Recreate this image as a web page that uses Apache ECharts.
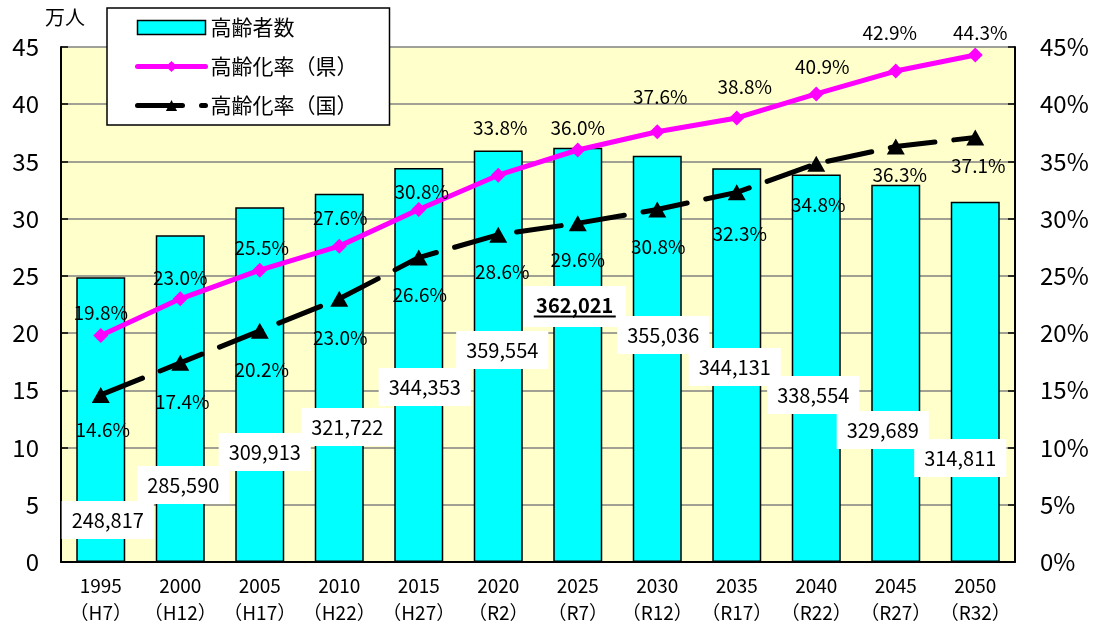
<!DOCTYPE html>
<html>
<head>
<meta charset="utf-8">
<title>高齢者数・高齢化率</title>
<script src="https://cdn.jsdelivr.net/npm/echarts@6/dist/echarts.min.js"></script>
<style>
  html, body { margin: 0; padding: 0; background: #fff; }
  #echartsShow { width: 1095px; height: 629px; }
</style>
</head>
<body>
<div id="echartsShow"></div>
<script>
// data
var years = ['1995', '2000', '2005', '2010', '2015', '2020', '2025', '2030', '2035', '2040', '2045', '2050'];
var eras = ['H7', 'H12', 'H17', 'H22', 'H27', 'R2', 'R7', 'R12', 'R17', 'R22', 'R27', 'R32'];
var elderly = [248817, 285590, 309913, 321722, 344353, 359554, 362021, 355036, 344131, 338554, 329689, 314811];
var ratePref = [19.8, 23.0, 25.5, 27.6, 30.8, 33.8, 36.0, 37.6, 38.8, 40.9, 42.9, 44.3];
var rateNation = [14.6, 17.4, 20.2, 23.0, 26.6, 28.6, 29.6, 30.8, 32.3, 34.8, 36.3, 37.1];
var highlightIndex = 6;

// label placement (pixels)
var barLabelOffset = [[7, -23], [3, -58], [5, -91], [8, -116], [6, -156], [4, -193], [-3, -235], [6, -208], [-2, -176], [-3, -148], [-13, -113], [-15, -85]];
var prefLabelOffset = [[0, -23], [0, -21], [2, -22], [1, -28], [3, -18], [2, -47], [0, -22], [3, -35], [8, -31], [6, -27], [-6, -38], [5, -22]];
var nationLabelOffset = [[2, 35], [2, 39], [2, 39], [1, 39], [1, 37], [4, 37], [0, 37], [1, 37], [3, 41], [2, 41], [4, 28], [3, 28]];

var FONT = '"Noto Sans CJK JP", sans-serif';

var echartsShow = echarts.init(document.getElementById('echartsShow'));

var barData = elderly.map(function (v, i) {
    var item = {
        value: v / 10000,
        label: { offset: barLabelOffset[i] }
    };
    if (i === highlightIndex) {
        item.label.formatter = function (p) {
            return '{b|' + elderly[p.dataIndex].toLocaleString('en-US') + '}\n{u|}';
        };
    }
    return item;
});

var prefData = ratePref.map(function (v, i) {
    return { value: v, label: { offset: prefLabelOffset[i] } };
});
var nationData = rateNation.map(function (v, i) {
    return { value: v, label: { offset: nationLabelOffset[i] } };
});

var option = {
    backgroundColor: '#fff',
    textStyle: { fontFamily: FONT },
    animation: false,
    title: {
        text: '万人',
        left: 40,
        top: 2,
        textStyle: { fontSize: 20, fontWeight: 'normal', color: '#000', fontFamily: FONT }
    },
    legend: {
        orient: 'vertical',
        left: 107,
        top: 8,
        backgroundColor: '#fff',
        borderColor: '#000',
        borderWidth: 1.5,
        borderRadius: 0,
        padding: [9, 32, 9, 28],
        itemWidth: 68,
        itemHeight: 14,
        itemGap: 18,
        lineStyle: { width: 5 },
        textStyle: { fontSize: 21, color: '#000', fontFamily: FONT },
        data: [{
            name: '高齢者数',
            icon: 'rect',
            itemStyle: { color: '#00FFFF', borderColor: '#000', borderWidth: 1.5 }
        }, {
            name: '高齢化率（県）',
            lineStyle: { width: 5, color: '#FF00FF' }
        }, {
            name: '高齢化率（国）',
            lineStyle: { width: 5, color: '#000' }
        }]
    },
    grid: {
        left: 61,
        right: 80,
        top: 47,
        bottom: 67,
        show: true,
        backgroundColor: '#FFFFCC',
        borderWidth: 0
    },
    xAxis: [{
        type: 'category',
        data: years,
        boundaryGap: true,
        axisLine: { lineStyle: { color: '#000', width: 2 } },
        axisTick: { inside: true, length: 6, lineStyle: { color: '#000', width: 1.5 } },
        axisLabel: {
            color: '#000',
            fontSize: 19,
            lineHeight: 27,
            margin: 10,
            interval: 0,
            formatter: function (v, i) { return v + '\n（' + eras[i] + '）'; }
        }
    }],
    yAxis: [{
        type: 'value',
        min: 0,
        max: 45,
        interval: 5,
        axisLine: { show: true, lineStyle: { color: '#000', width: 2 } },
        axisTick: { show: true, inside: true, length: 7, lineStyle: { color: '#000', width: 1.5 } },
        axisLabel: { color: '#000', fontSize: 24, margin: 22 },
        splitLine: { lineStyle: { color: '#808080', width: 1.5 } }
    }, {
        type: 'value',
        min: 0,
        max: 45,
        interval: 5,
        position: 'right',
        axisLine: { show: true, lineStyle: { color: '#000', width: 2 } },
        axisTick: { show: true, inside: true, length: 7, lineStyle: { color: '#000', width: 1.5 } },
        axisLabel: { color: '#000', fontSize: 24, margin: 25, formatter: '{value}%' },
        splitLine: { show: false }
    }],
    series: [{
        name: '高齢者数',
        type: 'bar',
        barWidth: 49,
        data: barData,
        itemStyle: { color: '#00FFFF', borderColor: '#000', borderWidth: 1.5 },
        label: {
            show: true,
            position: 'insideBottom',
            distance: 0,
            color: '#000',
            fontSize: 20,
            lineHeight: 20,
            backgroundColor: '#fff',
            padding: [9, 10],
            formatter: function (p) { return elderly[p.dataIndex].toLocaleString('en-US'); },
            rich: {
                b: { fontSize: 20, fontWeight: 'bold', color: '#000', lineHeight: 20 },
                u: { width: 82, height: 2, lineHeight: 3, backgroundColor: '#000' }
            }
        }
    }, {
        name: '高齢化率（県）',
        type: 'line',
        yAxisIndex: 1,
        data: prefData,
        symbol: 'diamond',
        symbolSize: 15,
        lineStyle: { color: '#FF00FF', width: 5, cap: 'round' },
        itemStyle: { color: '#FF00FF' },
        label: {
            show: true,
            position: 'inside',
            color: '#000',
            fontSize: 19,
            formatter: function (p) { return ratePref[p.dataIndex].toFixed(1) + '%'; }
        }
    }, {
        name: '高齢化率（国）',
        type: 'line',
        yAxisIndex: 1,
        data: nationData,
        symbol: 'triangle',
        symbolSize: [18, 16],
        lineStyle: { color: '#000', width: 5, type: [45, 19], cap: 'round' },
        itemStyle: { color: '#000' },
        label: {
            show: true,
            position: 'inside',
            color: '#000',
            fontSize: 19,
            formatter: function (p) { return rateNation[p.dataIndex].toFixed(1) + '%'; }
        }
    }]
};
echartsShow.setOption(option);
</script>
</body>
</html>
